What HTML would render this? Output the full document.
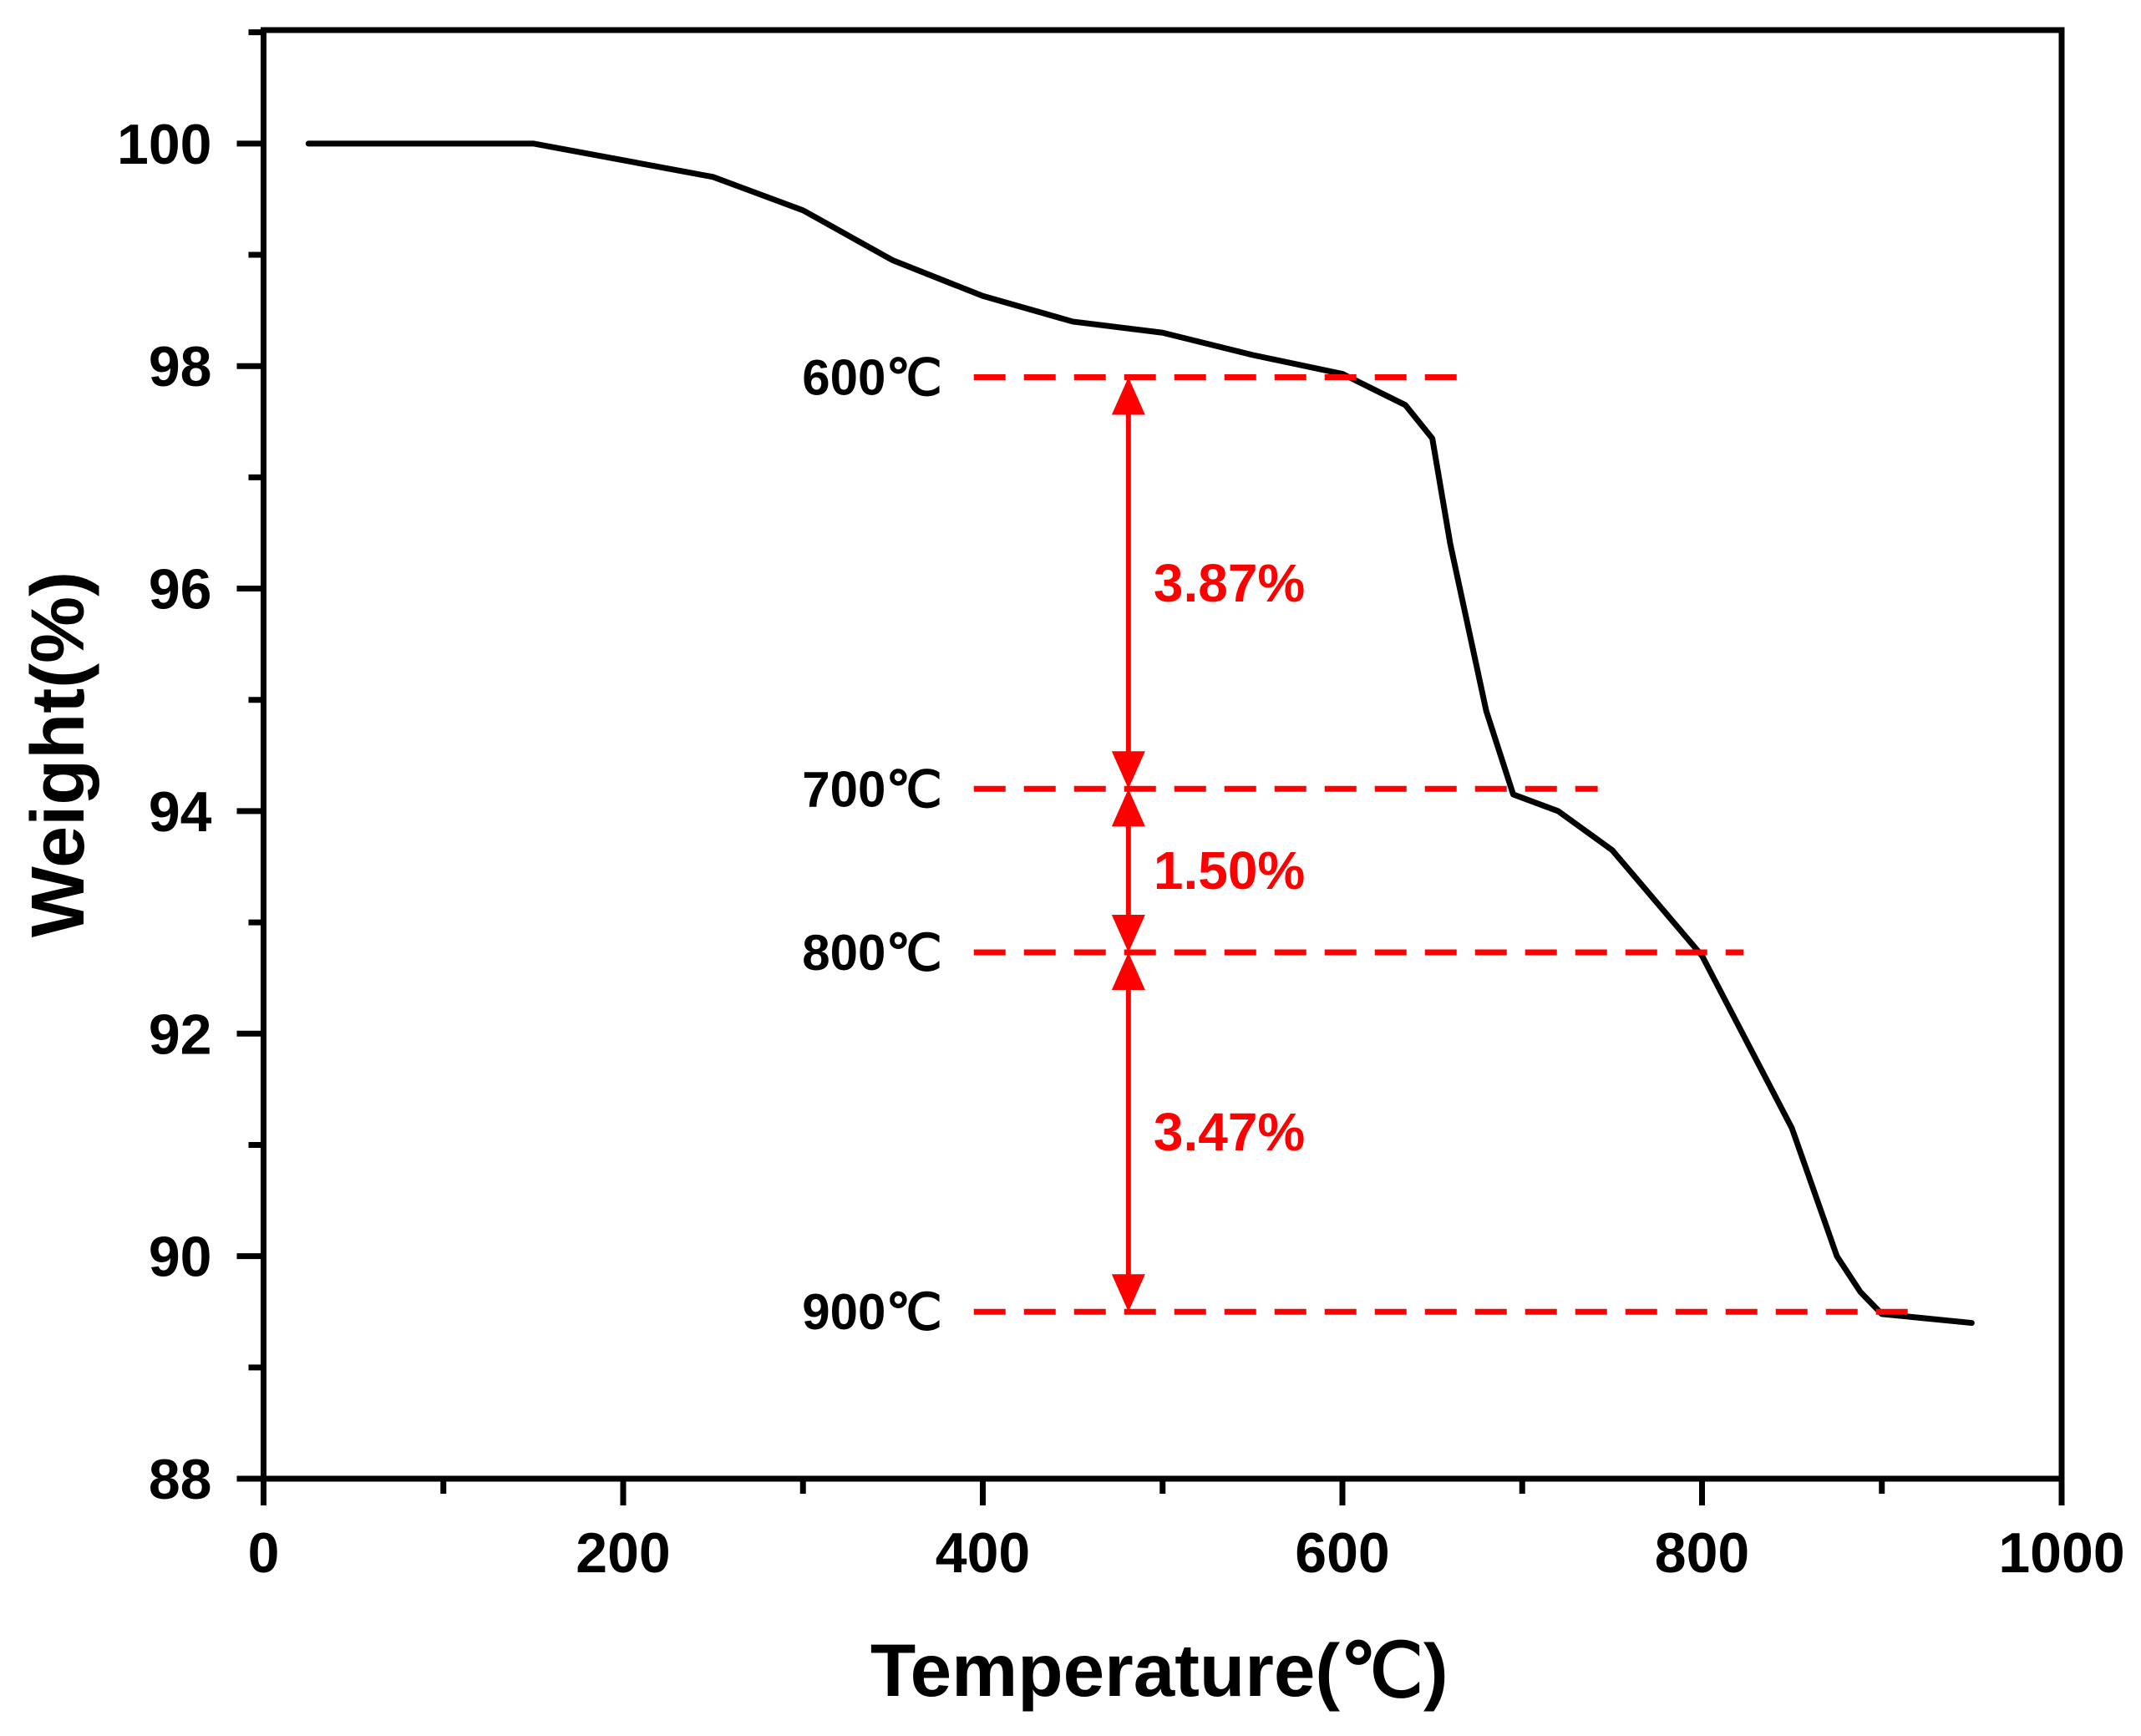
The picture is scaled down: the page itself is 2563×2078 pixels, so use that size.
<!DOCTYPE html>
<html><head><meta charset="utf-8"><style>
html,body{margin:0;padding:0;background:#fff;}
svg{display:block;font-family:"Liberation Sans",Arial,sans-serif;}
</style></head><body>
<svg id="chart" width="2563" height="2078" viewBox="0 0 2563 2078" xmlns="http://www.w3.org/2000/svg"></svg>
<script>
const temps = [25,150,250,300,350,400,450,500,550,600,635,650,660,680,695,720,750,800,850,875,888,900,950];
const weights = [100,100,99.7,99.4,98.95,98.63,98.4,98.3,98.1,97.93,97.65,97.35,96.4,94.9,94.15,94.0,93.65,92.7,91.15,90.0,89.68,89.48,89.4];
const xTicks = [0,200,400,600,800,1000];
const yTicks = [88,90,92,94,96,98,100];
const refLabels = ["600℃","700℃","800℃","900℃"];
const refWeights = [97.9,94.2,92.73,89.5];
const refEnds = [668,742,823,924];
const refStart = 395;
const arrowX = 481;
const pctLabels = ["3.87%","1.50%","3.47%"];

const L=315.5,R=2468,T=36,B=1770;
const X0=0,X1=1000,Y0=88,Y1=101.02;
const sx=v=>L+(v-X0)/(X1-X0)*(R-L);
const sy=v=>B-(v-Y0)/(Y1-Y0)*(B-T);
const svg=document.getElementById('chart');
const NS='http://www.w3.org/2000/svg';
function mk(tag,attrs,parent){const e=document.createElementNS(NS,tag);for(const k in attrs)e.setAttribute(k,attrs[k]);(parent||svg).appendChild(e);return e;}

let e=mk('rect',{x:L,y:T,width:R-L,height:B-T,fill:'none',stroke:'#000','stroke-width':7});



for(let v=0;v<=1000;v+=100){
  const major=v%200===0;
  e=mk('line',{x1:sx(v),x2:sx(v),y1:B,y2:B+(major?32:18),stroke:'#000','stroke-width':7});
  
  
}
xTicks.forEach(v=>{
  e=mk('text',{x:sx(v),y:B+112,'text-anchor':'middle','font-size':68,'font-weight':'bold'});
  e.textContent=v;
  
  
});
for(let v=88;v<=101;v+=1){
  const major=v%2===0;
  e=mk('line',{x1:L,x2:L-(major?32:18),y1:sy(v),y2:sy(v),stroke:'#000','stroke-width':7});
  
  
}
yTicks.forEach(v=>{
  e=mk('text',{x:L-62,y:sy(v)+24,'text-anchor':'end','font-size':68,'font-weight':'bold'});
  e.textContent=v;
  
  
});
e=mk('text',{x:(L+R)/2-4,y:2030,'text-anchor':'middle','font-size':89,'font-weight':'bold'});
e.textContent='Temperature(℃)';


e=mk('text',{x:0,y:0,'text-anchor':'middle','font-size':90,'font-weight':'bold',transform:`translate(100,${(T+B)/2}) rotate(-90)`});
e.textContent='Weight(%)';



e=mk('polyline',{points:temps.map((t,i)=>sx(t)+','+sy(weights[i])).join(' '),fill:'none',stroke:'#000','stroke-width':7,'stroke-linejoin':'round','stroke-linecap':'round'});



refWeights.forEach((w,i)=>{
  e=mk('line',{x1:sx(refStart),x2:sx(refEnds[i]),y1:sy(w),y2:sy(w),stroke:'#ff0000','stroke-width':7,'stroke-dasharray':'38 22'});
  
  
  e=mk('text',{x:sx(refStart)-38,y:sy(w)+21,'text-anchor':'end','font-size':60,'font-weight':'bold'});
  e.textContent=refLabels[i];
  
  
});
const ax=sx(arrowX),hw=20,hl=45;
for(let i=0;i<3;i++){
  const y1=sy(refWeights[i]),y2=sy(refWeights[i+1]);
  const g=mk('g',{});
  
  
  mk('line',{x1:ax,x2:ax,y1:y1+hl-4,y2:y2-hl+4,stroke:'#ff0000','stroke-width':6},g);
  mk('polygon',{points:`${ax},${y1} ${ax-hw},${y1+hl} ${ax+hw},${y1+hl}`,fill:'#ff0000'},g);
  mk('polygon',{points:`${ax},${y2} ${ax-hw},${y2-hl} ${ax+hw},${y2-hl}`,fill:'#ff0000'},g);
  e=mk('text',{x:ax+30,y:(y1+y2)/2+22,'font-size':64,'font-weight':'bold',fill:'#ff0000'});
  e.textContent=pctLabels[i];
  
  
}
</script>
</body></html>
